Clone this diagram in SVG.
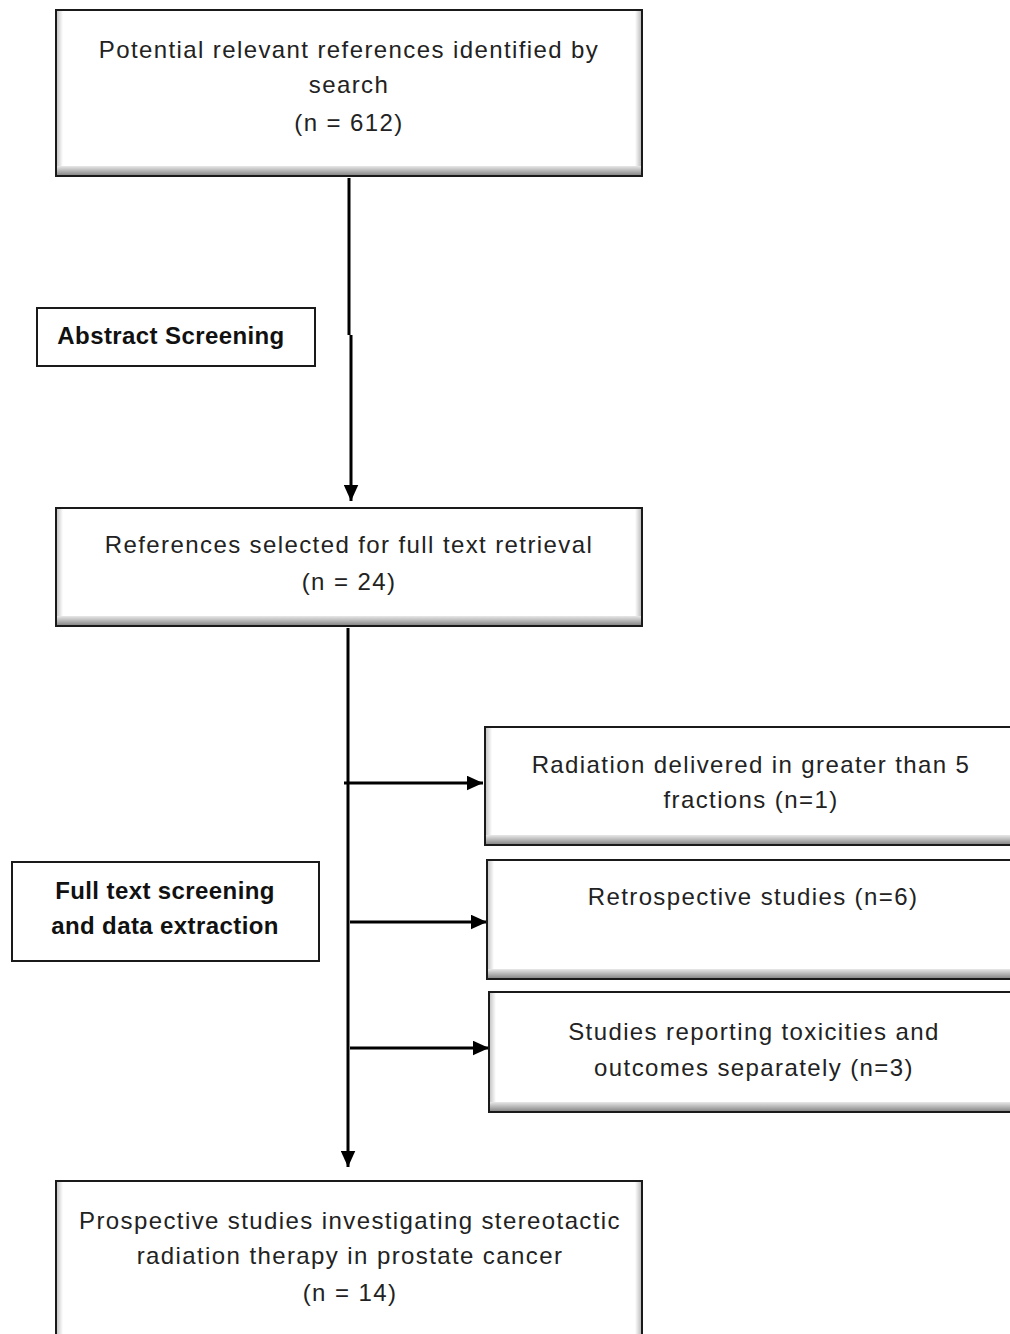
<svg xmlns="http://www.w3.org/2000/svg" width="1010" height="1334" viewBox="0 0 1010 1334">
<defs>
<linearGradient id="gb" x1="0" y1="0" x2="0" y2="1"><stop offset="0" stop-color="#e8e8e8"/><stop offset="1" stop-color="#8a8a8a"/></linearGradient>
<linearGradient id="gl" x1="0" y1="0" x2="1" y2="0"><stop offset="0" stop-color="#c8c8c8"/><stop offset="1" stop-color="#ffffff"/></linearGradient>
<linearGradient id="gr" x1="0" y1="0" x2="1" y2="0"><stop offset="0" stop-color="#ffffff"/><stop offset="1" stop-color="#c0c0c0"/></linearGradient>
<marker id="ah" viewBox="0 0 10 10" refX="10" refY="5" markerWidth="5.5" markerHeight="5" markerUnits="strokeWidth" orient="auto" preserveAspectRatio="none"><path d="M0,0 L10,5 L0,10 z" fill="#000"/></marker>
</defs>
<style>
.box{fill:#fff;stroke:#1a1a1a;stroke-width:2}
.bl{fill:url(#gl)}
.br{fill:url(#gr)}
.bb{fill:url(#gb)}
.t{font-family:"Liberation Sans",Arial,sans-serif;font-size:24px;letter-spacing:1.4px;fill:#222;text-anchor:middle}
.b{font-family:"Liberation Sans",Arial,sans-serif;font-size:24px;letter-spacing:0.4px;font-weight:bold;fill:#111;text-anchor:middle}
.c{stroke:#000;stroke-width:3;fill:none}
</style>
<rect width="1010" height="1334" fill="#fff"/>
<g id="connectors">
<path class="c" d="M349,178 V335 M351,335 V501" marker-end="url(#ah)"/>
<path class="c" d="M348,628 V1167" marker-end="url(#ah)"/>
<path class="c" d="M344,783 H483" marker-end="url(#ah)"/>
<path class="c" d="M350,922 H487" marker-end="url(#ah)"/>
<path class="c" d="M350,1048 H489" marker-end="url(#ah)"/>
</g>
<g id="n1">
<rect class="box" x="56" y="10" width="586" height="166"/>
<rect class="bl" x="57" y="11" width="6" height="155"/>
<rect class="br" x="635" y="11" width="6" height="155"/>
<rect class="bb" x="57" y="166" width="584" height="9"/>
<text class="t" x="349" y="58">Potential relevant references identified by</text>
<text class="t" x="349" y="93">search</text>
<text class="t" x="349" y="131">(n = 612)</text>
</g>
<g id="abstract">
<rect class="box" x="37" y="308" width="278" height="58"/>
<text class="b" x="171" y="344">Abstract Screening</text>
</g>
<g id="n2">
<rect class="box" x="56" y="508" width="586" height="118"/>
<rect class="bl" x="57" y="509" width="6" height="107"/>
<rect class="br" x="635" y="509" width="6" height="107"/>
<rect class="bb" x="57" y="616" width="584" height="9"/>
<text class="t" x="349" y="553">References selected for full text retrieval</text>
<text class="t" x="349" y="590">(n = 24)</text>
</g>
<g id="r1">
<rect class="box" x="485" y="727" width="530" height="118"/>
<rect class="bl" x="486" y="728" width="6" height="107"/>
<rect class="bb" x="486" y="835" width="528" height="9"/>
<text class="t" x="751" y="773">Radiation delivered in greater than 5</text>
<text class="t" x="751" y="808">fractions (n=1)</text>
</g>
<g id="fulltext">
<rect class="box" x="12" y="862" width="307" height="99"/>
<text class="b" x="165" y="899">Full text screening</text>
<text class="b" x="165" y="934">and data extraction</text>
</g>
<g id="r2">
<rect class="box" x="487" y="860" width="528" height="119"/>
<rect class="bl" x="488" y="861" width="6" height="108"/>
<rect class="bb" x="488" y="969" width="526" height="9"/>
<text class="t" x="753" y="905">Retrospective studies (n=6)</text>
</g>
<g id="r3">
<rect class="box" x="489" y="992" width="526" height="120"/>
<rect class="bl" x="490" y="993" width="6" height="109"/>
<rect class="bb" x="490" y="1102" width="524" height="9"/>
<text class="t" x="754" y="1040">Studies reporting toxicities and</text>
<text class="t" x="754" y="1076">outcomes separately (n=3)</text>
</g>
<g id="n3">
<rect class="box" x="56" y="1181" width="586" height="170"/>
<rect class="bl" x="57" y="1182" width="6" height="160"/>
<rect class="br" x="635" y="1182" width="6" height="160"/>
<text class="t" x="350" y="1229">Prospective studies investigating stereotactic</text>
<text class="t" x="350" y="1264">radiation therapy in prostate cancer</text>
<text class="t" x="350" y="1301">(n = 14)</text>
</g>
</svg>
